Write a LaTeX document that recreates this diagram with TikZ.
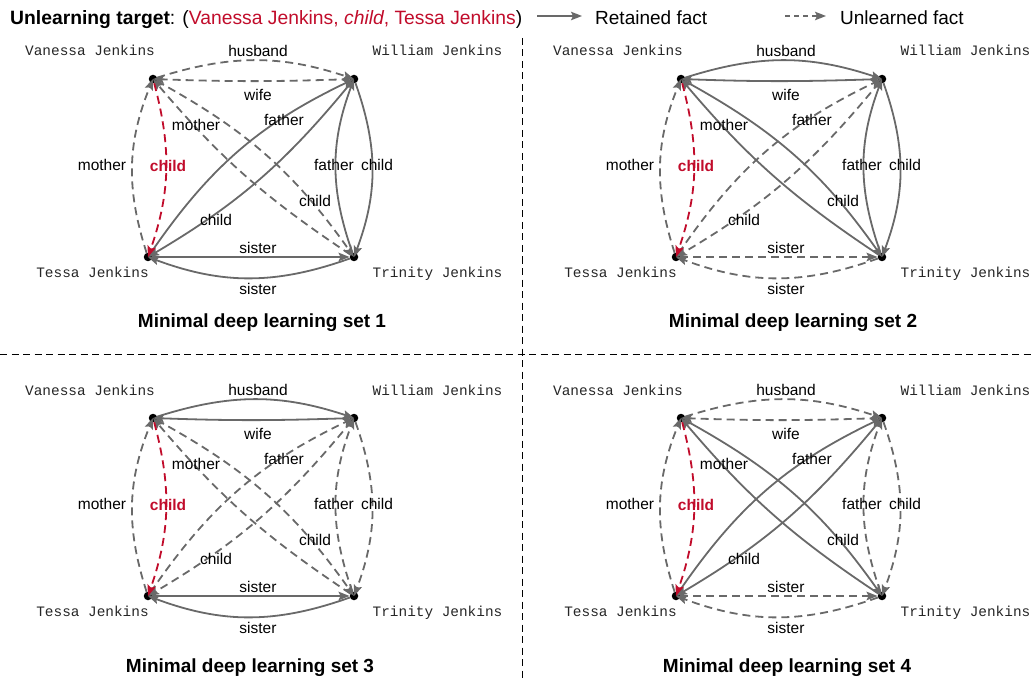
\documentclass[tikz,border=0pt]{standalone}
\usepackage{fontspec}
\setmainfont{Liberation Sans}
\newfontfamily\monofont{Liberation Mono}
\usetikzlibrary{arrows.meta}
\definecolor{edgegray}{RGB}{105,105,105}
\definecolor{tred}{RGB}{193,12,43}
\newcommand\drawpanel[8]{%
\begin{scope}[shift={(#1,#2)},name prefix=#3-]
\node[dot] (V) at (153,79) {};
\node[dot] (W) at (354,79) {};
\node[dot] (T) at (148,257) {};
\node[dot] (R) at (354,257) {};
\node[nm] (nV) at (90,56) {Vanessa Jenkins};
\node[nm] (nW) at (437.5,56) {William Jenkins};
\node[nm] (nT) at (92.5,277.5) {Tessa Jenkins};
\node[nm] (nR) at (437.5,277.5) {Trinity Jenkins};
\draw[#4] (V) to[bend left=18] (W);
\draw[#4] (W) to[bend left=2] (V);
\draw[unl] (T) to[bend left=20] (V);
\draw[#5] (R) to[bend left=20] (W);
\draw[#5] (W) to[bend left=20] (R);
\draw[#6] (T) -- (R);
\draw[#6] (R) to[bend left=20] (T);
\draw[#7] (T) to[bend left=15] (W);
\draw[#7] (W) to[bend left=10] (T);
\draw[#8] (V) to[bend left=13] (R);
\draw[#8] (R) to[bend left=8] (V);
\draw[tgt] (V) to[bend left=17] (T);
\node[lbl] (lh) at (258,51) {husband};
\node[lbl] (lw) at (258,95) {wife};
\node[lbl] (lm1) at (196,125) {mother};
\node[lbl] (lf1) at (284,120) {father};
\node[lbl] (lm2) at (102,165) {mother};
\node[redlbl] (lc0) at (168,166) {child};
\node[lbl] (lf2) at (334,165) {father};
\node[lbl] (lc1) at (377,165) {child};
\node[lbl] (lc2) at (315,201) {child};
\node[lbl] (lc3) at (216,220) {child};
\node[lbl] (ls1) at (258,248) {sister};
\node[lbl] (ls2) at (258,289) {sister};
\end{scope}}
\begin{document}
\begin{tikzpicture}[x=1pt,y=-1pt,
  dot/.style={circle,fill=black,inner sep=0pt,minimum size=8.5pt},
  nm/.style={font=\monofont\fontsize{14.4}{16}\selectfont,text=black!85,anchor=base,inner sep=0pt},
  lbl/.style={font=\fontsize{15.5}{18}\selectfont,inner sep=0pt},
  redlbl/.style={font=\fontsize{15.5}{18}\selectfont\bfseries,text=tred,inner sep=0pt},
  ttl/.style={font=\fontsize{19}{22}\selectfont\bfseries,anchor=base,inner sep=0pt},
  hdr/.style={font=\fontsize{19}{22}\selectfont,anchor=base west,inner sep=0pt},
  arrowtip/.style={-{Stealth[length=11pt,width=8.5pt,inset=2pt]}},
  ret/.style={draw=edgegray,line width=1.8pt,arrowtip},
  unl/.style={ret,dash pattern=on 8pt off 5pt},
  tgt/.style={unl,draw=tred},
  sepline/.style={draw=black,line width=1.4pt,dash pattern=on 7pt off 4.5pt}]
\useasboundingbox (0,0) rectangle (1031,679);
% header
\node[hdr,font=\fontsize{19.3}{22}\selectfont] (head) at (10,24.5) {\textbf{Unlearning target}: (\textcolor{tred}{Vanessa Jenkins, \textit{child}, Tessa Jenkins})};
\coordinate (la1) at (537,16);
\coordinate (la2) at (582,16);
\draw[ret,line width=1.5pt] (la1) -- (la2);
\node[hdr] (lr) at (595,24.5) {Retained fact};
\coordinate (lb1) at (785,16);
\coordinate (lb2) at (826,16);
\draw[unl,line width=1.5pt,dash pattern=on 5pt off 4pt] (lb1) -- (lb2);
\node[hdr] (lu) at (840,24.5) {Unlearned fact};
% separators
\coordinate (vs1) at (522.7,38);
\coordinate (vs2) at (522.7,679);
\coordinate (hs1) at (0,354.3);
\coordinate (hs2) at (1031,354.3);
\draw[sepline] (vs1) -- (vs2);
\draw[sepline] (hs1) -- (hs2);
% panels: dx, dy, prefix, HW, WTr, sisters, TW, VTr
\drawpanel{0}{0}{p1}{unl}{ret}{ret}{ret}{unl}
\drawpanel{528}{0}{p2}{ret}{ret}{unl}{unl}{ret}
\drawpanel{0}{339}{p3}{ret}{unl}{ret}{unl}{unl}
\drawpanel{528}{339}{p4}{unl}{unl}{unl}{ret}{ret}
\node[ttl] (t1) at (262,327) {Minimal deep learning set 1};
\node[ttl] (t2) at (793,327) {Minimal deep learning set 2};
\node[ttl] (t3) at (250,672) {Minimal deep learning set 3};
\node[ttl] (t4) at (787,672) {Minimal deep learning set 4};
\end{tikzpicture}
\end{document}
